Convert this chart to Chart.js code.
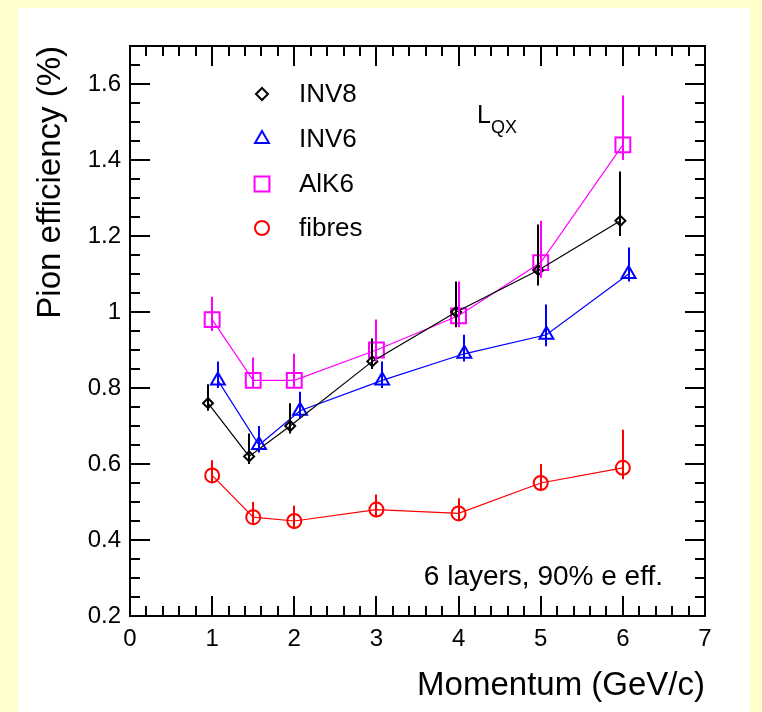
<!DOCTYPE html>
<html>
<head>
<meta charset="utf-8">
<script src="https://cdn.jsdelivr.net/npm/chart.js@4.4.0/dist/chart.umd.min.js"></script>
<style>
  html, body { margin: 0; padding: 0; background: #ffffcc; }
  #panel { position: absolute; left: 18px; top: 8px; width: 732px; height: 704px; background: #ffffff; }
  #chart { position: absolute; left: 0; top: 0; }
</style>
</head>
<body>
<div id="panel"></div>
<canvas id="chart" width="762" height="712"></canvas>
<script>
  // momentum (GeV/c) of each measurement, per radiator (points are shifted a bit in x)
  const momInv8 = [0.95, 1.45, 1.95, 2.95, 3.97, 4.97, 5.97];
  const momInv6 = [1.07, 1.57, 2.07, 3.07, 4.07, 5.07, 6.07];
  const momAlk6 = [1, 1.5, 2, 3, 4, 5, 6];
  const momFib  = [1, 1.5, 2, 3, 4, 5, 6];

  // pion efficiency (%)
  const effInv8 = [0.76, 0.62, 0.70, 0.87, 1.00, 1.11, 1.24];
  const effInv6 = [0.82, 0.65, 0.74, 0.82, 0.89, 0.94, 1.10];
  const effAlk6 = [0.98, 0.82, 0.82, 0.90, 0.99, 1.13, 1.44];
  const effFib  = [0.57, 0.46, 0.45, 0.48, 0.47, 0.55, 0.59];

  // error bars: upper and lower
  const upInv8 = [0.05, 0.06, 0.06, 0.06, 0.08, 0.12, 0.13];
  const dnInv8 = [0.02, 0.02, 0.02, 0.02, 0.04, 0.04, 0.04];
  const upInv6 = [0.05, 0.05, 0.05, 0.05, 0.05, 0.08, 0.07];
  const dnInv6 = [0.02, 0.02, 0.02, 0.02, 0.02, 0.03, 0.02];
  const upAlk6 = [0.06, 0.06, 0.07, 0.08, 0.09, 0.11, 0.13];
  const dnAlk6 = [0.03, 0.02, 0.02, 0.03, 0.03, 0.04, 0.04];
  const upFib  = [0.04, 0.04, 0.04, 0.04, 0.04, 0.05, 0.10];
  const dnFib  = [0.02, 0.02, 0.02, 0.02, 0.02, 0.02, 0.03];

  const xTicks = [0, 1, 2, 3, 4, 5, 6, 7];
  const yTicks = [0.2, 0.4, 0.6, 0.8, 1, 1.2, 1.4, 1.6];

  const FAMILY = "'Liberation Sans', Arial, Helvetica, sans-serif";
  Chart.defaults.font.family = FAMILY;
  Chart.defaults.color = '#000';

  const series = [
    { label: 'INV8',   x: momInv8, y: effInv8, up: upInv8, dn: dnInv8, color: '#000000', style: 'rectRot',  r: 5 },
    { label: 'INV6',   x: momInv6, y: effInv6, up: upInv6, dn: dnInv6, color: '#0000ff', style: 'triangle', r: 8 },
    { label: 'AlK6',   x: momAlk6, y: effAlk6, up: upAlk6, dn: dnAlk6, color: '#ff00ff', style: 'rect',     r: 10.5 },
    { label: 'fibres', x: momFib,  y: effFib,  up: upFib,  dn: dnFib,  color: '#ff0000', style: 'circle',   r: 7 }
  ];

  // error bars, frame with inside ticks, legend and labels
  const rootStyle = {
    id: 'rootStyle',
    afterDatasetsDraw(chart) {
      const { ctx, chartArea: a, scales: { x, y } } = chart;
      ctx.save();

      // vertical error bars
      ctx.lineWidth = 2;
      series.forEach(s => {
        ctx.strokeStyle = s.color;
        ctx.beginPath();
        s.x.forEach((m, i) => {
          const px = Math.round(x.getPixelForValue(m));
          ctx.moveTo(px, y.getPixelForValue(s.y[i] + s.up[i]));
          ctx.lineTo(px, y.getPixelForValue(s.y[i] - s.dn[i]));
        });
        ctx.stroke();
      });

      // frame
      ctx.strokeStyle = '#000';
      ctx.lineWidth = 2;
      ctx.strokeRect(a.left, a.top, a.right - a.left, a.bottom - a.top);

      // ticks on all four sides, pointing inwards
      ctx.beginPath();
      for (let i = 0; i <= 35; i++) {
        const px = Math.round(x.getPixelForValue(i * 0.2));
        const len = i % 5 === 0 ? 20 : 10;
        ctx.moveTo(px, a.bottom); ctx.lineTo(px, a.bottom - len);
        ctx.moveTo(px, a.top);    ctx.lineTo(px, a.top + len);
      }
      for (let i = 0; i <= 30; i++) {
        const py = Math.round(y.getPixelForValue(0.2 + i * 0.05));
        const len = i % 4 === 0 ? 20 : 10;
        ctx.moveTo(a.left, py);  ctx.lineTo(a.left + len, py);
        ctx.moveTo(a.right, py); ctx.lineTo(a.right - len, py);
      }
      ctx.stroke();

      // legend
      const rows = [94, 139, 184, 228];
      ctx.font = '26px ' + FAMILY;
      ctx.textBaseline = 'middle';
      ctx.textAlign = 'left';
      series.forEach((s, i) => {
        ctx.strokeStyle = s.color;
        ctx.fillStyle = 'rgba(0,0,0,0)';
        Chart.helpers.drawPoint(ctx, { pointStyle: s.style, radius: i === 0 ? 6 : s.r, borderWidth: 2, rotation: 0 }, 262, rows[i]);
        ctx.fillStyle = '#000';
        ctx.fillText(s.label, 299, rows[i] + 1);
      });

      // method label L_QX
      ctx.textBaseline = 'alphabetic';
      ctx.font = '25px ' + FAMILY;
      ctx.fillText('L', 477, 123);
      ctx.font = '18px ' + FAMILY;
      ctx.fillText('QX', 491, 133);

      // run conditions
      ctx.font = '28px ' + FAMILY;
      ctx.textAlign = 'right';
      ctx.fillText('6 layers, 90% e eff.', 663, 585);

      ctx.restore();
    }
  };

  new Chart(document.getElementById('chart').getContext('2d'), {
    type: 'scatter',
    data: {
      datasets: series.map(s => ({
        label: s.label,
        data: s.x.map((m, i) => ({ x: m, y: s.y[i] })),
        showLine: true,
        borderColor: s.color,
        borderWidth: 1.2,
        pointStyle: s.style,
        pointRadius: s.r,
        pointBorderWidth: 2,
        pointBorderColor: s.color,
        pointBackgroundColor: 'rgba(0,0,0,0)'
      }))
    },
    options: {
      responsive: false,
      animation: false,
      layout: { padding: { top: 46, right: 57, left: 0, bottom: 0 } },
      plugins: { legend: { display: false }, tooltip: { enabled: false } },
      scales: {
        x: {
          type: 'linear', min: 0, max: 7,
          grid: { display: false, drawTicks: false },
          border: { display: false },
          afterBuildTicks: s => { s.ticks = xTicks.map(v => ({ value: v })); },
          ticks: { padding: 9, font: { size: 24 }, color: '#000', maxRotation: 0 },
          title: { display: true, text: 'Momentum (GeV/c)', align: 'end', color: '#000',
                   font: { size: 33 }, padding: { top: 0, bottom: 6 } },
          afterFit: s => { s.height = 96; }
        },
        y: {
          type: 'linear', min: 0.2, max: 1.7,
          grid: { display: false, drawTicks: false },
          border: { display: false },
          afterBuildTicks: s => { s.ticks = yTicks.map(v => ({ value: v })); },
          ticks: { padding: 9, font: { size: 24 }, color: '#000',
                   callback: v => String(+v.toFixed(1)) },
          title: { display: true, text: 'Pion efficiency (%)', align: 'end', color: '#000',
                   font: { size: 33 }, padding: { top: 31, bottom: 0 } },
          afterFit: s => { s.width = 130; }
        }
      }
    },
    plugins: [rootStyle]
  });
</script>
</body>
</html>
